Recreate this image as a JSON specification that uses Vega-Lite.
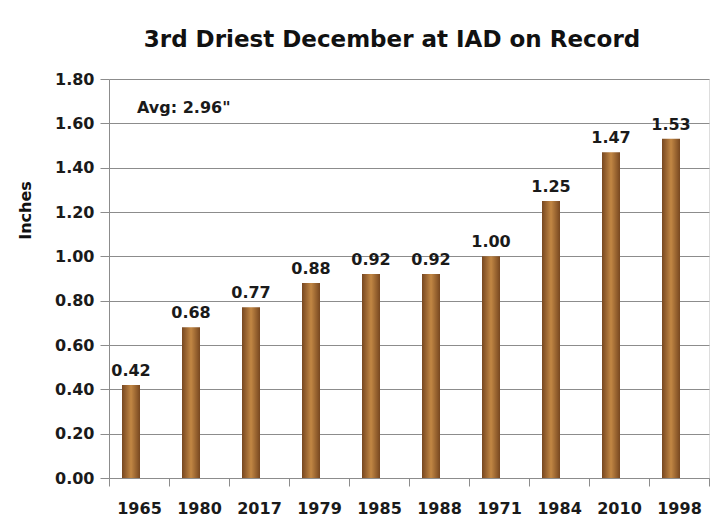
{
  "$schema": "https://vega.github.io/schema/vega-lite/v6.json",
  "autosize": "none",
  "width": 600,
  "height": 399,
  "padding": {"left": 109, "top": 79, "right": 4, "bottom": 45},
  "background": "white",
  "title": {
    "text": "3rd Driest December at IAD on Record",
    "font": "DejaVu Sans",
    "fontSize": 23,
    "fontWeight": "bold",
    "color": "#111111",
    "anchor": "middle",
    "dx": -17,
    "offset": 1,
    "baseline": "alphabetic"
  },
  "data": {
    "values": [
      {"year": "1965", "inches": 0.42},
      {"year": "1980", "inches": 0.68},
      {"year": "2017", "inches": 0.77},
      {"year": "1979", "inches": 0.88},
      {"year": "1985", "inches": 0.92},
      {"year": "1988", "inches": 0.92},
      {"year": "1971", "inches": 1.00},
      {"year": "1984", "inches": 1.25},
      {"year": "2010", "inches": 1.47},
      {"year": "1998", "inches": 1.53}
    ]
  },
  "encoding": {
    "x": {
      "field": "year",
      "type": "nominal",
      "sort": null,
      "scale": {"paddingInner": 0, "paddingOuter": 0},
      "axis": {
        "title": null,
        "labelAngle": 0,
        "labelFont": "DejaVu Sans",
        "labelFontWeight": "bold",
        "labelFontSize": 16,
        "labelColor": "#1a1a1a",
        "labelBaseline": "alphabetic",
        "labelPadding": 27,
        "domainColor": "#8c8c8c",
        "tickColor": "#8c8c8c",
        "tickSize": 8,
        "tickBand": "extent",
        "grid": false
      }
    },
    "y": {
      "field": "inches",
      "type": "quantitative",
      "scale": {"domain": [0, 1.8], "nice": false},
      "axis": {
        "title": "Inches",
        "titleFont": "DejaVu Sans",
        "titleFontSize": 16,
        "titleFontWeight": "bold",
        "titleColor": "#111111",
        "titleAngle": -90,
        "titleX": -84,
        "titleY": 131,
        "titleAlign": "center",
        "titleBaseline": "middle",
        "values": [0, 0.2, 0.4, 0.6, 0.8, 1.0, 1.2, 1.4, 1.6, 1.8],
        "format": ".2f",
        "labelFont": "DejaVu Sans",
        "labelFontWeight": "bold",
        "labelFontSize": 16,
        "labelColor": "#1a1a1a",
        "labelPadding": 6,
        "tickSize": 9,
        "tickColor": "#8c8c8c",
        "domainColor": "#8c8c8c",
        "gridColor": "#8c8c8c",
        "gridWidth": 1
      }
    }
  },
  "layer": [
    {
      "mark": {
        "type": "bar",
        "width": 18,
        "xOffset": -8,
        "color": {
          "gradient": "linear",
          "x1": 0, "y1": 0, "x2": 1, "y2": 0,
          "stops": [
            {"offset": 0, "color": "#774720"},
            {"offset": 0.5, "color": "#c28744"},
            {"offset": 1, "color": "#774720"}
          ]
        }
      }
    },
    {
      "mark": {
        "type": "text",
        "xOffset": -8,
        "dy": -9,
        "baseline": "alphabetic",
        "font": "DejaVu Sans",
        "fontWeight": "bold",
        "fontSize": 16,
        "color": "#1a1a1a"
      },
      "encoding": {
        "text": {"field": "inches", "type": "quantitative", "format": ".2f"}
      }
    },
    {
      "transform": [{"filter": "datum.year == '1965'"}],
      "mark": {
        "type": "text",
        "align": "left",
        "baseline": "middle",
        "font": "DejaVu Sans",
        "fontWeight": "bold",
        "fontSize": 16,
        "color": "#1a1a1a",
        "dx": -2
      },
      "encoding": {
        "y": {"datum": 1.67, "type": "quantitative"},
        "text": {"value": "Avg: 2.96\""}
      }
    }
  ]
}
